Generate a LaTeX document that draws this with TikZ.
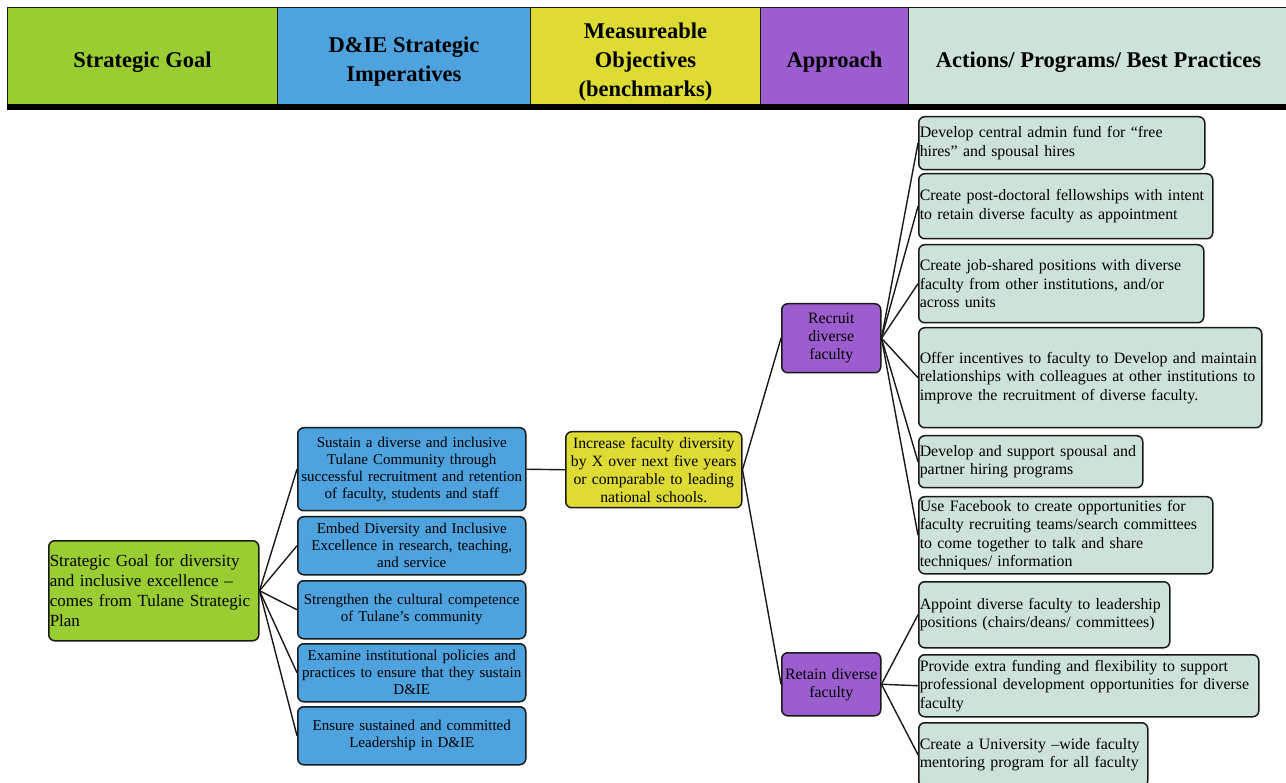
\documentclass[tikz,border=0pt]{standalone}
\usepackage{fontspec}
\setmainfont{Liberation Serif}
\definecolor{cgreen}{RGB}{154,205,50}
\definecolor{cblue}{RGB}{78,162,222}
\definecolor{cyel}{RGB}{222,220,52}
\definecolor{cpurp}{RGB}{156,94,206}
\definecolor{clight}{RGB}{205,227,218}
\definecolor{edge}{RGB}{25,25,25}
\tikzset{
  hdrcell/.style={draw=edge, line width=0.9pt, anchor=north west, inner sep=0pt, minimum height=98pt},
  hdrtxt/.style={inner sep=0pt, align=center, font=\bfseries\fontsize{22.5}{29}\selectfont},
  box/.style={draw=edge, line width=1.5pt, rounded corners=6pt, anchor=north west,
    inner xsep=1pt, inner ysep=0pt},
  bluebox/.style={box, fill=cblue, align=center, font=\fontsize{15}{17}\selectfont},
  actbox/.style={box, fill=clight, align=left, font=\fontsize{15.9}{18.5}\selectfont},
  conn/.style={draw=edge, line width=1.4pt}
}
\begin{document}
\begin{tikzpicture}[x=1pt,y=-1pt]
\useasboundingbox (0,0) rectangle (1286,783);
\clip (0,0) rectangle (1286,783);
% header
\node[hdrcell, fill=cgreen, minimum width=270pt] (h1) at (7,7) {};
\node[hdrcell, fill=cblue, minimum width=253pt] (h2) at (277,7) {};
\node[hdrcell, fill=cyel, minimum width=230pt] (h3) at (530,7) {};
\node[hdrcell, fill=cpurp, minimum width=148pt] (h4) at (760,7) {};
\node[hdrcell, fill=clight, minimum width=390pt] (h5) at (908,7) {};
\node[hdrtxt] (t1) at ([yshift=-5.5pt]h1.center) {Strategic Goal};
\node[hdrtxt] (t2) at ([yshift=-5.5pt]h2.center) {D\&IE Strategic\\Imperatives};
\node[hdrtxt] (t3) at ([yshift=-5.5pt]h3.center) {Measureable\\Objectives\\(benchmarks)};
\node[hdrtxt] (t4) at ([yshift=-5.5pt]h4.center) {Approach};
\node[hdrtxt] (t5) at ([yshift=-5.5pt,xshift=-5pt]h5.center) {Actions/ Programs/ Best Practices};
\fill[black] (7,104) rectangle (1286,110);

% goal
\node[box, fill=cgreen, align=left, text width=208pt, minimum height=100pt,
  font=\fontsize{17}{20}\selectfont] (goal) at (48,540)
  {Strategic Goal for diversity\\and inclusive excellence --\\comes from Tulane Strategic\\Plan};

% imperatives
\node[bluebox, text width=226pt, minimum height=83pt] (b1) at (297,427)
  {Sustain a diverse and inclusive\\Tulane Community through\\successful recruitment and retention\\of faculty, students and staff};
\node[bluebox, text width=226pt, minimum height=58pt] (b2) at (297,516)
  {Embed Diversity and Inclusive\\Excellence in research, teaching,\\and service};
\node[bluebox, text width=226pt, minimum height=58pt] (b3) at (297,580)
  {Strengthen the cultural competence\\of Tulane's community};
\node[bluebox, text width=226pt, minimum height=58pt] (b4) at (297,643)
  {Examine institutional policies and\\practices to ensure that they sustain\\D\&IE};
\node[bluebox, text width=226pt, minimum height=58pt] (b5) at (297,706)
  {Ensure sustained and committed\\Leadership in D\&IE};

% objective
\node[box, fill=cyel, align=center, text width=174pt, minimum height=76pt,
  font=\fontsize{15.7}{18}\selectfont] (obj) at (565,431)
  {Increase faculty diversity\\by X over next five years\\or comparable to leading\\national schools.};

% approach
\node[box, fill=cpurp, align=center, text width=97pt, minimum height=69pt,
  font=\fontsize{15.8}{18}\selectfont] (rec) at (781,303)
  {Recruit\\diverse\\faculty};
\node[box, fill=cpurp, align=center, text width=97pt, minimum height=63pt,
  font=\fontsize{15.8}{18}\selectfont] (ret) at (781,652)
  {Retain diverse\\faculty};

% actions
\node[actbox, text width=284pt, minimum height=53pt] (a1) at (918,116)
  {Develop central admin fund for ``free\\hires'' and spousal hires};
\node[actbox, text width=292pt, minimum height=65pt] (a2) at (918,173)
  {Create post-doctoral fellowships with intent\\to retain diverse faculty as appointment};
\node[actbox, text width=283pt, minimum height=78pt] (a3) at (918,244)
  {Create job-shared positions with diverse\\faculty from other institutions, and/or\\across units};
\node[actbox, text width=341pt, minimum height=100pt] (a4) at (918,327)
  {Offer incentives to faculty to Develop and maintain\\relationships with colleagues at other institutions to\\improve the recruitment of diverse faculty.};
\node[actbox, text width=222pt, minimum height=52pt] (a5) at (918,435)
  {Develop and support spousal and\\partner hiring programs};
\node[actbox, text width=292pt, minimum height=77pt] (a6) at (918,496)
  {Use Facebook to create opportunities for\\faculty recruiting teams/search committees\\to come together to talk and share\\techniques/ information};
\node[actbox, text width=249pt, minimum height=66pt] (a7) at (918,581)
  {Appoint diverse faculty to leadership\\positions (chairs/deans/ committees)};
\node[actbox, text width=338pt, minimum height=62pt] (a8) at (918,654)
  {Provide extra funding and flexibility to support\\professional development opportunities for diverse\\faculty};
\node[actbox, text width=227pt, minimum height=64pt] (a9) at (918,722)
  {Create a University --wide faculty\\mentoring program for all faculty};

% connectors
\foreach \b in {b1,b2,b3,b4,b5} \draw[conn] (goal.east) -- (\b.west);
\draw[conn] (b1.east) -- (obj.west);
\draw[conn] (obj.east) -- (rec.west);
\draw[conn] (obj.east) -- (ret.west);
\foreach \a in {a1,a2,a3,a4,a5,a6} \draw[conn] (rec.east) -- (\a.west);
\foreach \a in {a7,a8,a9} \draw[conn] (ret.east) -- (\a.west);
\end{tikzpicture}
\end{document}
